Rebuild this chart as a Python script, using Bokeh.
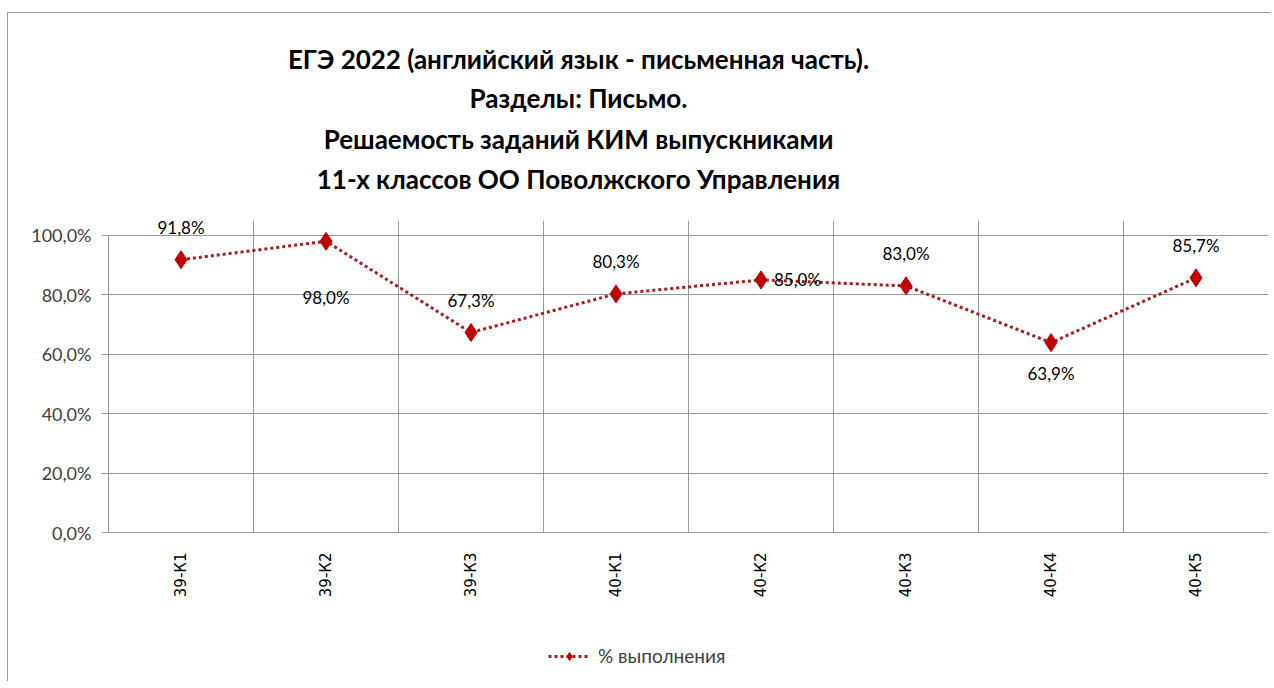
from bokeh.plotting import figure
from bokeh.models import ColumnDataSource, FixedTicker, Label, Legend, LegendItem
from bokeh.layouts import column
from bokeh.embed import file_html
from bokeh.resources import INLINE
from bokeh.core.properties import value
import math

# ---- data ----
categories = ["39-К1", "39-К2", "39-К3", "40-К1", "40-К2", "40-К3", "40-К4", "40-К5"]
percent_done = [91.8, 98.0, 67.3, 80.3, 85.0, 83.0, 63.9, 85.7]
value_labels = ["91,8%", "98,0%", "67,3%", "80,3%", "85,0%", "83,0%", "63,9%", "85,7%"]
y_tick_values = [0, 20, 40, 60, 80, 100]
y_tick_labels = ["0,0%", "20,0%", "40,0%", "60,0%", "80,0%", "100,0%"]
title_lines = [
    "ЕГЭ 2022 (английский язык - письменная часть).",
    "Разделы: Письмо.",
    "Решаемость заданий КИМ выпускниками",
    "11-х классов ОО Поволжского Управления",
]
series_name = "% выполнения"

# label placement (style)
label_place = ["above", "below", "above", "above", "right", "above", "below", "above"]

FONT = "Lato"
RED = "#C00000"
LINE_RED = "#A81C1C"
GRID = "#9a9a9a"
W = 1262
FRAME_L, FRAME_R = 107, 1267   # page px of the chart frame (frames of stacked figures align)


def blank(height, xr, yr):
    f = figure(width=W, height=height, x_range=xr, y_range=yr,
               x_axis_location=None, y_axis_location=None,
               output_backend="svg", toolbar_location=None,
               min_border_left=0, min_border_right=0, min_border_top=0, min_border_bottom=0)
    f.grid.visible = False
    f.outline_line_color = None
    f.border_fill_color = "white"
    f.background_fill_color = "white"
    return f


xs = [i + 0.5 for i in range(len(categories))]
src = ColumnDataSource(dict(x=xs, y=percent_done, lab=value_labels))

# ---------------- title block ----------------
TH = 188
tfig = blank(TH, (FRAME_L, FRAME_R), (0, TH))
title_px_y = [45, 84, 125, 165]          # line centres, px from top of block
tsrc = ColumnDataSource(dict(x=[577] * len(title_lines),
                             y=[TH - v for v in title_px_y], t=title_lines))
tfig.text("x", "y", text="t", source=tsrc, text_align="center", text_baseline="middle",
          text_font=value(FONT), text_font_size="26px", text_font_style="bold",
          text_color="#000000")

# ---------------- main chart ----------------
p = figure(width=W, height=410, x_range=(0, len(categories)), y_range=(0, 105),
           output_backend="svg", toolbar_location=None,
           min_border_left=100, min_border_right=2, min_border_top=19, min_border_bottom=79)
p.background_fill_color = "white"
p.border_fill_color = "white"
p.outline_line_color = None

p.xgrid.ticker = FixedTicker(ticks=list(range(len(categories) + 1)))
p.xgrid.bounds = (0, 100)
p.ygrid.ticker = FixedTicker(ticks=y_tick_values)
p.xgrid.grid_line_color = GRID
p.ygrid.grid_line_color = GRID

p.xaxis.ticker = FixedTicker(ticks=xs)
p.xaxis.major_label_overrides = {x: c for x, c in zip(xs, categories)}
p.xaxis.major_label_orientation = math.pi / 2
p.xaxis.major_tick_line_color = None
p.xaxis.minor_tick_line_color = None
p.xaxis.major_label_standoff = 14
p.xaxis.major_label_text_font = "DejaVu Sans"
p.xaxis.major_label_text_font_size = "15px"
p.xaxis.major_label_text_color = "#000000"
p.xaxis.axis_line_color = GRID

p.yaxis.ticker = FixedTicker(ticks=y_tick_values)
p.yaxis.bounds = (0, 100)
p.yaxis.major_label_overrides = {v: t for v, t in zip(y_tick_values, y_tick_labels)}
p.yaxis.major_tick_out = 7
p.yaxis.major_tick_in = 0
p.yaxis.minor_tick_line_color = None
p.yaxis.major_tick_line_color = GRID
p.yaxis.axis_line_color = GRID
p.yaxis.major_label_standoff = 10
p.yaxis.major_label_text_font = FONT
p.yaxis.major_label_text_font_size = "18px"
p.yaxis.major_label_text_color = "#404040"

line_style = dict(line_color=LINE_RED, line_width=3, line_dash="3 3")
marker_style = dict(marker="diamond", size=18, fill_color=RED, line_color=RED)
p.line("x", "y", source=src, **line_style)
p.scatter("x", "y", source=src, **marker_style)

for x, y, lab, pl in zip(xs, percent_done, value_labels, label_place):
    if pl == "above":
        kw = dict(y_offset=32, text_align="center", x_offset=0)
    elif pl == "below":
        kw = dict(y_offset=-31 if y < 90 else -56, text_align="center", x_offset=0)
    else:
        kw = dict(y_offset=0, text_align="left", x_offset=13)
    p.add_layout(Label(x=x, y=y, text=lab, text_font=FONT, text_font_size="17px",
                       text_color="#000000", text_baseline="middle", **kw))

# ---------------- legend block ----------------
# same series drawn into a far-away range so nothing shows; used only for the legend glyph
lfig = blank(70, (-1000, -999), (-1000, -999))
lln = lfig.line("x", "y", source=src, **line_style)
lsc = lfig.scatter("x", "y", source=src, **marker_style)
legend = Legend(items=[LegendItem(label=series_name, renderers=[lln, lsc])],
                location=(440, 14), orientation="horizontal",
                label_text_font=FONT, label_text_font_size="19px",
                label_text_color="#404040", glyph_width=42, glyph_height=20,
                label_standoff=8, border_line_color=None, background_fill_alpha=0)
lfig.add_layout(legend, "center")

layout = column(tfig, p, lfig, spacing=0)
layout.margin = (12, 0, 0, 7)
layout.styles = {"border-left": "1px solid #9a9a9a", "border-top": "1px solid #9a9a9a"}

open("out.html", "w").write(file_html(layout, INLINE))
